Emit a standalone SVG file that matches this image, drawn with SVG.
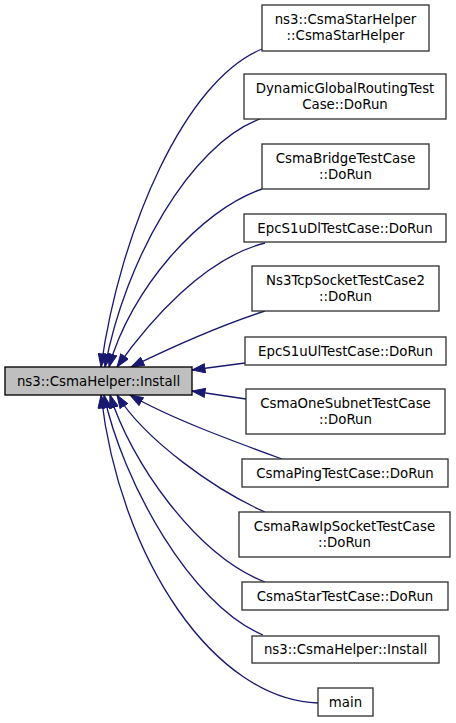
<svg xmlns="http://www.w3.org/2000/svg" width="456" height="723" viewBox="0 0 456 723">
<defs>
<style>
.n rect{fill:#ffffff;stroke:#333333;stroke-width:1.33}
.m rect{fill:#bfbfbf;stroke:#000000;stroke-width:1.33}
text{font-family:"DejaVu Sans","Liberation Sans",sans-serif;font-size:13.33px;fill:#000000;text-anchor:middle}
.e path{fill:none;stroke:#191970;stroke-width:1.33;marker-end:url(#ah)}
</style>
<marker id="ah" markerUnits="userSpaceOnUse" markerWidth="14" markerHeight="10" viewBox="0 0 14 10" refX="13.5" refY="5" orient="auto">
<path d="M0.5,0.5 L13.5,5 L0.5,9.5 Z" fill="#191970" stroke="#191970" stroke-width="1"/>
</marker>
</defs>
<rect width="456" height="723" fill="#ffffff"/>
<g id="edges" class="e">
<path d="M262,49 C185,80 120,230 101,367"/>
<path d="M260,119 C190,145 125,260 105,367"/>
<path d="M262,189 C200,210 130,290 109,367"/>
<path d="M265,243 C205,258 150,320 117,367"/>
<path d="M265,311 C225,324 170,348 131,367"/>
<path d="M245,363 L192,370"/>
<path d="M246,399 L192,391"/>
<path d="M282,459 C230,440 170,418 130,395"/>
<path d="M265,512 C215,490 145,440 117,395"/>
<path d="M265,582 C195,555 130,460 110,395"/>
<path d="M263,635 C190,605 122,480 104,395"/>
<path d="M318,703 C215,700 120,560 101,395"/>
</g>
<g id="node_main" class="m"><rect x="5" y="367" width="187" height="28"/><text x="98.5" y="385.5">ns3::CsmaHelper::Install</text></g>
<g id="node1" class="n"><rect x="262" y="5" width="167" height="46"/><text x="345.5" y="24">ns3::CsmaStarHelper</text><text x="345.5" y="39.5">::CsmaStarHelper</text></g>
<g id="node2" class="n"><rect x="244" y="74" width="202" height="45"/><text x="345" y="93">DynamicGlobalRoutingTest</text><text x="345" y="108.5">Case::DoRun</text></g>
<g id="node3" class="n"><rect x="262" y="144" width="167" height="45"/><text x="345.5" y="163">CsmaBridgeTestCase</text><text x="345.5" y="178.5">::DoRun</text></g>
<g id="node4" class="n"><rect x="244" y="214" width="202" height="28"/><text x="345" y="232.5">EpcS1uDlTestCase::DoRun</text></g>
<g id="node5" class="n"><rect x="252" y="266" width="187" height="45"/><text x="345.5" y="285">Ns3TcpSocketTestCase2</text><text x="345.5" y="300.5">::DoRun</text></g>
<g id="node6" class="n"><rect x="245" y="337" width="201" height="28"/><text x="345.5" y="355.5">EpcS1uUlTestCase::DoRun</text></g>
<g id="node7" class="n"><rect x="246" y="389" width="199" height="45"/><text x="345.5" y="408">CsmaOneSubnetTestCase</text><text x="345.5" y="423.5">::DoRun</text></g>
<g id="node8" class="n"><rect x="242" y="459" width="206" height="28"/><text x="345" y="477.5">CsmaPingTestCase::DoRun</text></g>
<g id="node9" class="n"><rect x="239" y="512" width="211" height="45"/><text x="344.5" y="531">CsmaRawIpSocketTestCase</text><text x="344.5" y="546.5">::DoRun</text></g>
<g id="node10" class="n"><rect x="242" y="582" width="206" height="28"/><text x="345" y="600.5">CsmaStarTestCase::DoRun</text></g>
<g id="node11" class="n"><rect x="252" y="636" width="187" height="27"/><text x="345.5" y="654">ns3::CsmaHelper::Install</text></g>
<g id="node12" class="n"><rect x="318" y="688" width="55" height="28"/><text x="345.5" y="706.5">main</text></g>
</svg>
